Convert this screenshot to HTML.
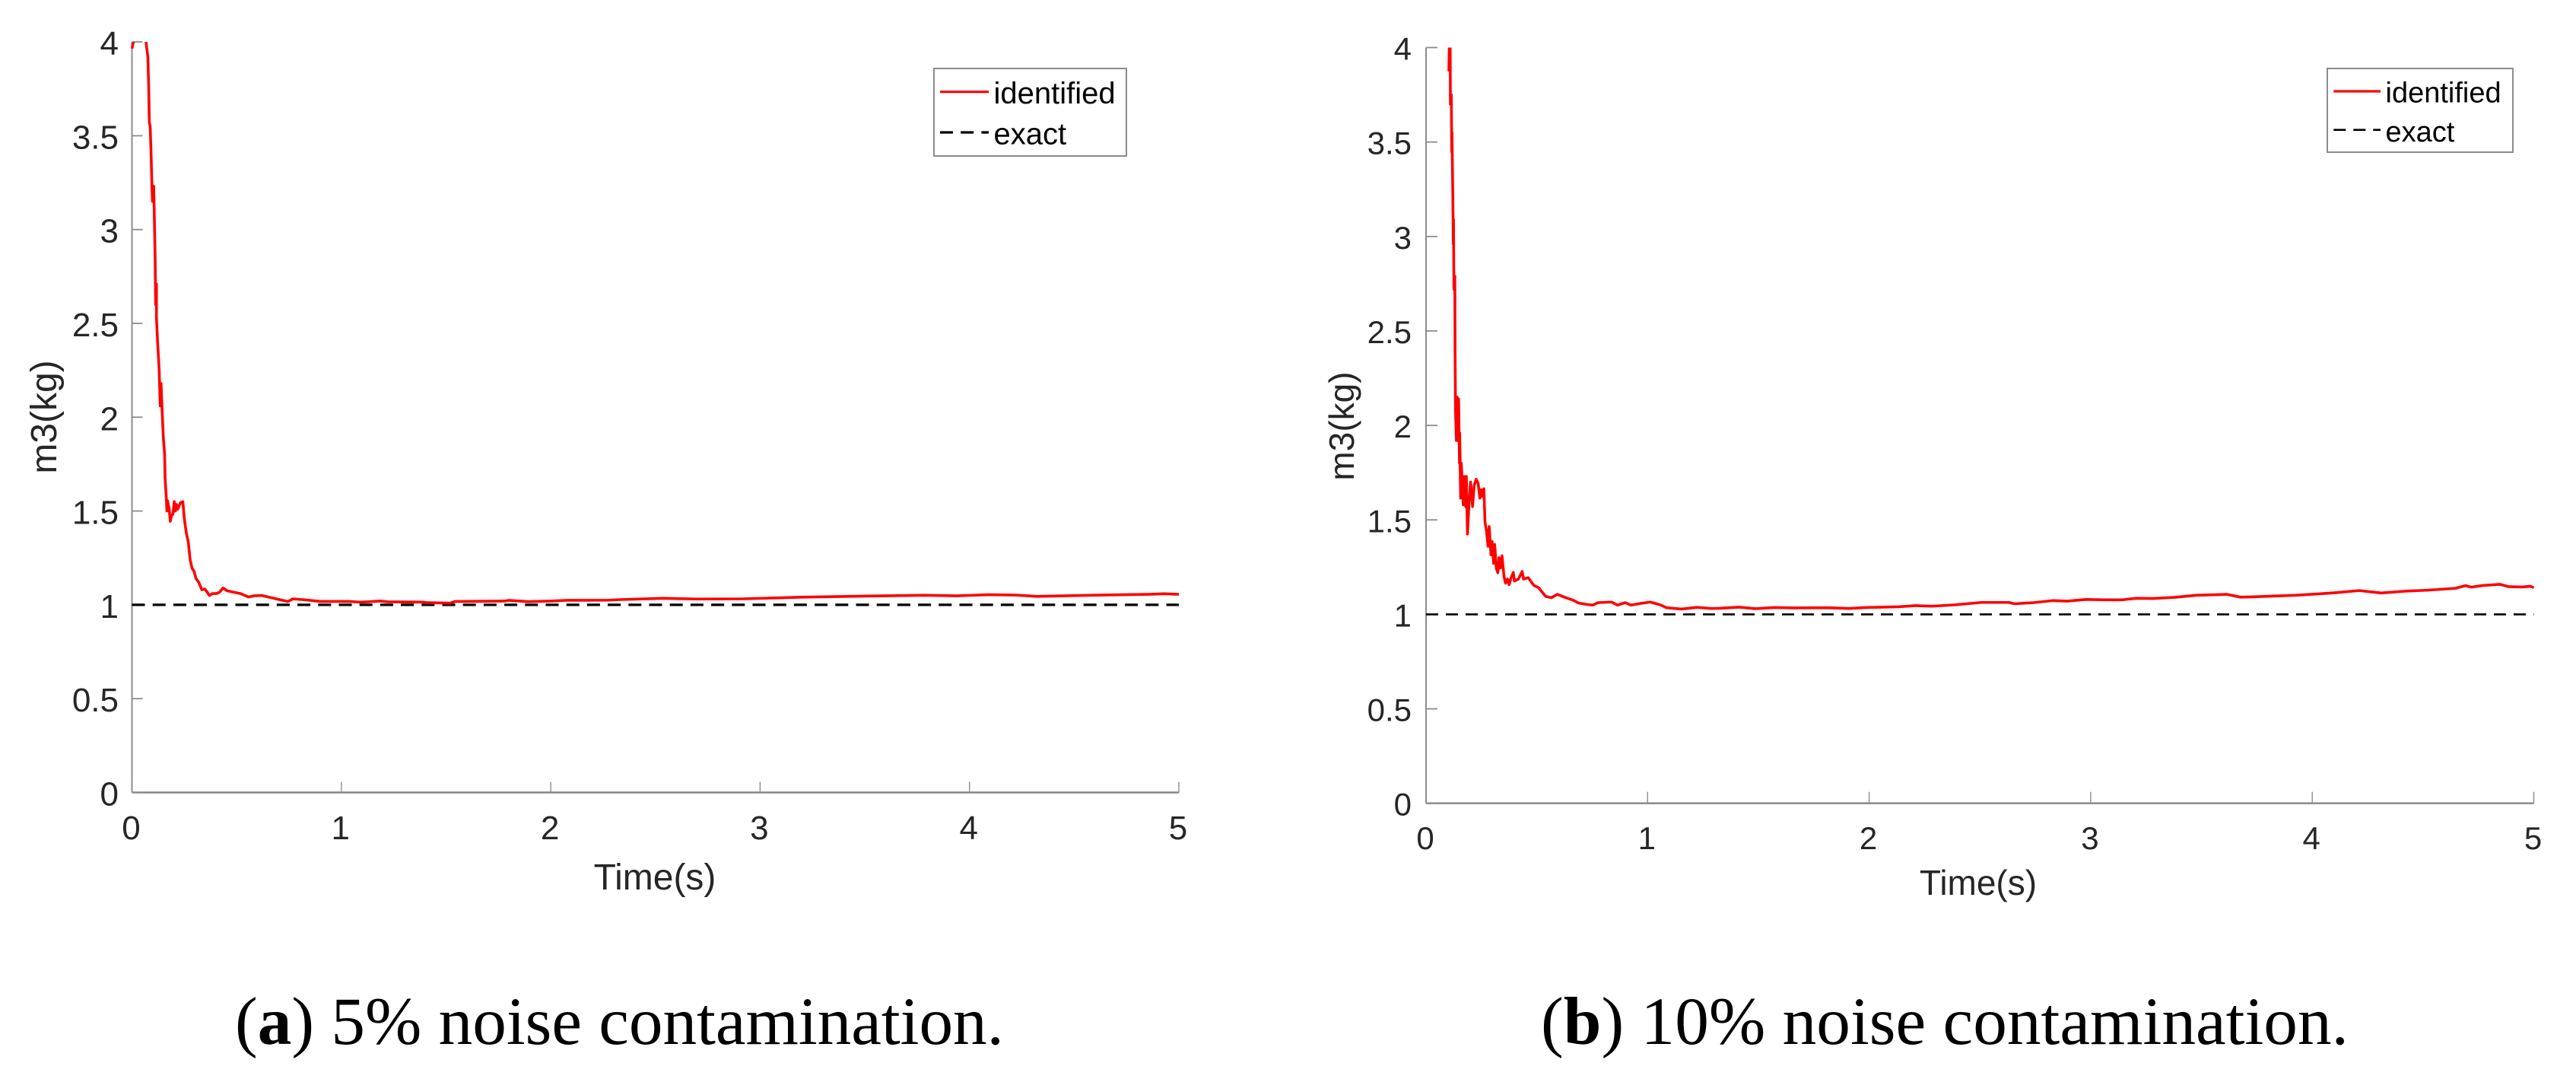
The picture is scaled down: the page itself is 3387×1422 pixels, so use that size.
<!DOCTYPE html>
<html lang="en">
<head>
<meta charset="utf-8">
<title>m3 identification under noise contamination</title>
<style>
  html, body { margin: 0; padding: 0; background: #fff; }
  svg { display: block; }
  text { font-family: "Liberation Sans", Arial, sans-serif; }
  .caption { font-family: "Liberation Serif", "Times New Roman", serif; font-size: 89.5px; fill: #000; }
</style>
</head>
<body>
<svg id="figure" xmlns="http://www.w3.org/2000/svg" width="3387" height="1422" viewBox="0 0 3387 1422">
  <rect x="0" y="0" width="3387" height="1422" fill="#ffffff"/>
  <text class="caption" x="309" y="1372" textLength="1011" lengthAdjust="spacingAndGlyphs">(<tspan font-weight="bold">a</tspan>) 5% noise contamination.</text>
  <text class="caption" x="2026" y="1372" textLength="1062" lengthAdjust="spacingAndGlyphs">(<tspan font-weight="bold">b</tspan>) 10% noise contamination.</text>
</svg>
<script>
// ---- chart data ----
const xTickValues = [0, 1, 2, 3, 4, 5];
const xTickLabels = ["0", "1", "2", "3", "4", "5"];
const yTickValues = [0, 0.5, 1, 1.5, 2, 2.5, 3, 3.5, 4];
const yTickLabels = ["0", "0.5", "1", "1.5", "2", "2.5", "3", "3.5", "4"];
const seriesNames = ["identified", "exact"];
const exactTime = [0, 5];
const exactMass = [1, 1];

const time5 = [0,.007,.02,.06,.067,.076,.08,.083,.087,.091,.095,.098,.104,.107,.111,.113,.117,.117,.122,.13,.135,.139,.145,.15,.156,.158,.163,.167,.17,.178,.183,.189,.196,.202,.208,.213,.219,.232,.243,.25,.26,.269,.278,.287,.296,.306,.319,.334,.347,.358,.37,.385,.404,.419,.435,.454,.482,.519,.556,.584,.62,.658,.704,.745,.769,.834,.899,1.038,1.093,1.186,1.223,1.39,1.408,1.52,1.543,1.575,1.78,1.798,1.89,2.0,2.078,2.276,2.333,2.537,2.7,2.919,3.2,3.531,3.786,3.939,4.092,4.219,4.321,4.449,4.627,4.856,4.93,5.0];
const mass5 = [3.965,4.0,4.05,4.02,4.0,3.92,3.76,3.57,3.55,3.42,3.25,3.15,3.23,3.06,2.83,2.6,2.71,2.53,2.41,2.25,2.06,2.18,2.01,1.89,1.80,1.68,1.59,1.50,1.555,1.51,1.445,1.475,1.485,1.55,1.50,1.535,1.51,1.545,1.55,1.46,1.38,1.335,1.24,1.195,1.18,1.14,1.12,1.08,1.085,1.07,1.05,1.06,1.06,1.068,1.09,1.075,1.068,1.06,1.042,1.048,1.05,1.04,1.028,1.018,1.032,1.026,1.018,1.018,1.014,1.02,1.016,1.0146,1.012,1.009,1.018,1.018,1.02,1.024,1.017,1.02,1.024,1.025,1.028,1.035,1.031,1.032,1.041,1.047,1.051,1.048,1.054,1.052,1.045,1.048,1.052,1.056,1.059,1.056];

const time10 = [0,.09,.105,.103,.109,.11,.114,.116,.117,.121,.123,.124,.126,.13,.131,.133,.137,.14,.144,.147,.151,.152,.156,.159,.165,.168,.173,.179,.182,.187,.194,.201,.21,.217,.226,.235,.243,.249,.254,.261,.266,.273,.28,.285,.293,.298,.305,.31,.317,.324,.329,.336,.343,.352,.359,.368,.375,.384,.394,.399,.417,.434,.44,.461,.487,.508,.54,.566,.592,.627,.662,.688,.723,.753,.776,.837,.864,.899,.925,.969,1.012,1.056,1.086,1.153,1.223,1.287,1.328,1.412,1.486,1.573,1.66,1.81,1.91,1.984,2.133,2.208,2.283,2.383,2.507,2.631,2.656,2.743,2.831,2.893,2.98,3.067,3.142,3.204,3.279,3.378,3.478,3.615,3.677,3.739,3.926,4.05,4.1,4.212,4.311,4.423,4.523,4.647,4.692,4.717,4.772,4.847,4.884,4.947,4.984,5.0];
const mass10 = [5.0,4.4,4.0,3.88,4.0,3.70,3.75,3.45,3.55,3.21,2.96,3.09,2.72,2.79,2.40,2.08,1.92,2.15,1.92,2.14,1.80,1.96,1.615,1.80,1.66,1.58,1.73,1.57,1.73,1.425,1.59,1.70,1.57,1.68,1.715,1.695,1.615,1.66,1.625,1.665,1.49,1.44,1.36,1.465,1.315,1.385,1.27,1.37,1.245,1.22,1.30,1.245,1.31,1.20,1.165,1.187,1.157,1.194,1.222,1.176,1.187,1.227,1.187,1.194,1.153,1.141,1.095,1.088,1.106,1.09,1.076,1.06,1.053,1.049,1.062,1.065,1.049,1.062,1.049,1.058,1.065,1.051,1.035,1.028,1.037,1.031,1.032,1.038,1.03,1.036,1.034,1.035,1.031,1.036,1.04,1.046,1.043,1.05,1.063,1.063,1.056,1.062,1.073,1.07,1.079,1.077,1.077,1.085,1.084,1.09,1.101,1.106,1.091,1.093,1.101,1.11,1.114,1.126,1.113,1.123,1.128,1.138,1.152,1.144,1.153,1.159,1.147,1.145,1.149,1.141];

// ---- panel geometry ----
const svg = document.getElementById('figure');
const NS = 'http://www.w3.org/2000/svg';

function mk(tag, attrs, parent) {
  const node = document.createElementNS(NS, tag);
  for (const k in attrs) node.setAttribute(k, attrs[k]);
  parent.appendChild(node);
  return node;
}

function drawPanel(p, times, masses) {
  const xOf = function (t) { return p.x0 + t * p.xUnit; };
  const yOf = function (v) { return p.y0 - v * p.yUnit; };
  const polyPoints = function (ts, vs) {
    return ts.map(function (t, i) { return xOf(t).toFixed(2) + ',' + yOf(vs[i]).toFixed(2); }).join(' ');
  };

  const g = mk('g', {}, svg);
  
  

  const clip = mk('clipPath', { id: p.id + '-clip' }, g);
  mk('rect', { x: xOf(0) - 2, y: yOf(4), width: xOf(5) - xOf(0) + 4, height: yOf(0) - yOf(4) }, clip);

  const yAxis = mk('line', { x1: xOf(0), x2: xOf(0), y1: yOf(0), y2: yOf(4), stroke: '#8c8c8c', 'stroke-width': 2 }, g);
  
  

  const xAxis = mk('line', { x1: xOf(0), x2: xOf(5), y1: yOf(0), y2: yOf(0), stroke: '#858585', 'stroke-width': 2.4 }, g);
  
  

  yTickValues.forEach(function (v, i) {
    const tick = mk('line', { x1: xOf(0), x2: xOf(0) + p.tickLen, y1: yOf(v), y2: yOf(v), stroke: '#8c8c8c', 'stroke-width': 1.8 }, g);
    
    
    const label = mk('text', { x: p.yLabelRight, y: yOf(v) + p.yLabelDy, 'text-anchor': 'end', 'font-size': p.tickFont, fill: '#262626' }, g);
    label.textContent = yTickLabels[i];
    
    
  });

  xTickValues.forEach(function (t, i) {
    const tick = mk('line', { x1: xOf(t), x2: xOf(t), y1: yOf(0), y2: yOf(0) - p.tickLen, stroke: '#8c8c8c', 'stroke-width': 1.4 }, g);
    
    
    const label = mk('text', { x: xOf(t) - 1, y: p.xLabelBase, 'text-anchor': 'middle', 'font-size': p.tickFont, fill: '#262626' }, g);
    label.textContent = xTickLabels[i];
    
    
  });

  const exact = mk('polyline', { points: polyPoints(exactTime, exactMass), fill: 'none', stroke: '#000000', 'stroke-width': p.dashWidth, 'stroke-dasharray': p.dash }, g);
  
  

  const identified = mk('polyline', { points: polyPoints(times, masses), fill: 'none', stroke: '#ff0000', 'stroke-width': 3.6, 'stroke-linejoin': 'round', 'clip-path': 'url(#' + p.id + '-clip)' }, g);
  
  

  const xTitle = mk('text', { x: p.xTitleX, y: p.xTitleY, 'text-anchor': 'middle', 'font-size': p.titleFont, fill: '#262626' }, g);
  xTitle.textContent = 'Time(s)';
  
  

  const yTitle = mk('text', { transform: 'translate(' + p.yTitleX + ' ' + p.yTitleY + ') rotate(-90)', 'text-anchor': 'middle', 'font-size': p.titleFont, fill: '#262626' }, g);
  yTitle.textContent = 'm3(kg)';
  
  

  const legend = mk('g', {}, g);
  
  

  const box = mk('rect', { x: p.lx, y: p.ly, width: p.lw, height: p.lh, fill: '#ffffff', stroke: '#8c8c8c', 'stroke-width': 2 }, legend);
  
  

  const keyRed = mk('line', { x1: p.keyX1, x2: p.keyX2, y1: p.keyY1, y2: p.keyY1, stroke: '#ff0000', 'stroke-width': 3.2 }, legend);
  
  

  const keyBlack = mk('line', { x1: p.keyX1, x2: p.keyX2, y1: p.keyY2, y2: p.keyY2, stroke: '#000000', 'stroke-width': p.dashWidth, 'stroke-dasharray': p.dash }, legend);
  
  

  const text1 = mk('text', { x: p.ltx, y: p.lty1, 'font-size': p.legendFont, fill: '#000000' }, legend);
  text1.textContent = seriesNames[0];
  
  

  const text2 = mk('text', { x: p.ltx, y: p.lty2, 'font-size': p.legendFont, fill: '#000000' }, legend);
  text2.textContent = seriesNames[1];
  
  
}

drawPanel({
  id: 'panel-a', x0: 173.5, xUnit: 275.3, y0: 1041.5, yUnit: 246.6, tickLen: 14,
  tickFont: 44, titleFont: 48, yLabelRight: 156, yLabelDy: 17, xLabelBase: 1103,
  xTitleX: 861, xTitleY: 1169, yTitleX: 74, yTitleY: 548,
  dash: '17 10.2', dashWidth: 3.2,
  lx: 1228, ly: 90, lw: 253, lh: 115, keyX1: 1236, keyX2: 1300, keyY1: 120.7, keyY2: 174,
  ltx: 1306.5, lty1: 136, lty2: 189.3, legendFont: 40
}, time5, mass5);

drawPanel({
  id: 'panel-b', x0: 1875, xUnit: 291.3, y0: 1055.7, yUnit: 248.3, tickLen: 15,
  tickFont: 42, titleFont: 46, yLabelRight: 1856, yLabelDy: 16, xLabelBase: 1116,
  xTitleX: 2601, xTitleY: 1176, yTitleX: 1780, yTitleY: 560,
  dash: '16 10', dashWidth: 2.6,
  lx: 3060, ly: 90, lw: 244, lh: 110, keyX1: 3068.3, keyX2: 3130, keyY1: 120, keyY2: 170.7,
  ltx: 3136.5, lty1: 134.7, lty2: 186, legendFont: 38
}, time10, mass10);
</script>
</body>
</html>
